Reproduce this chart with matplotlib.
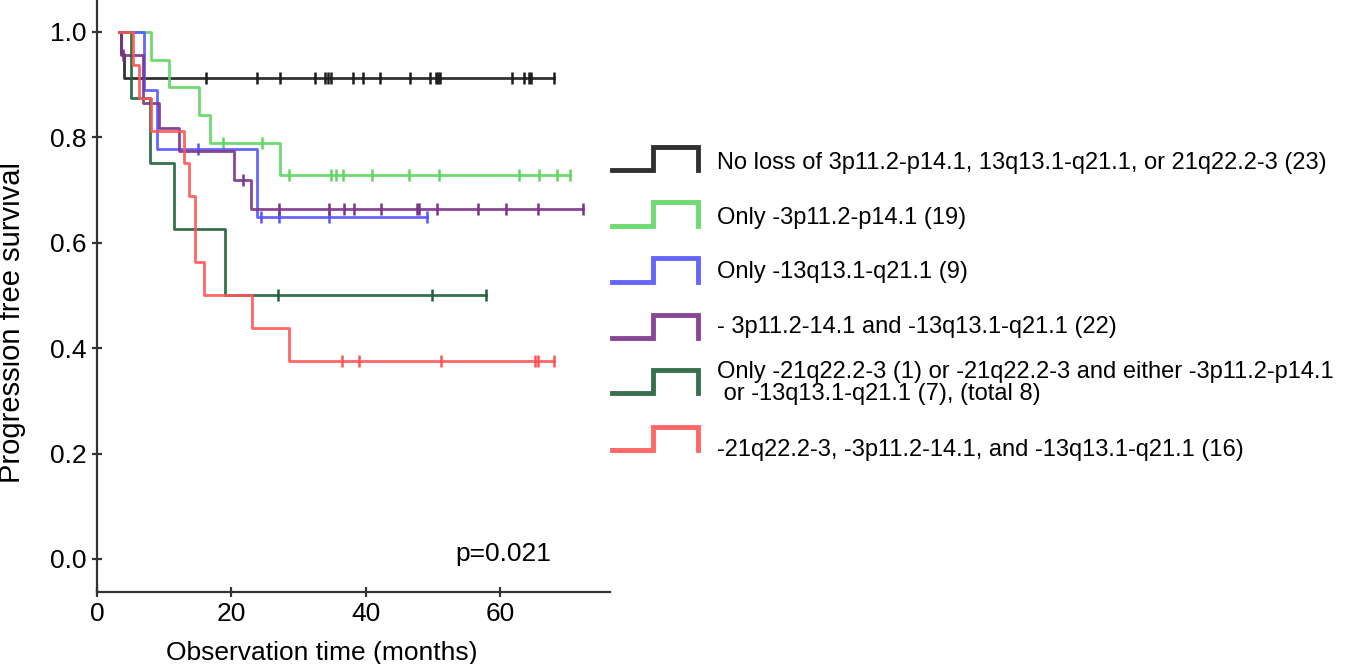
import numpy as np
import matplotlib
matplotlib.use("Agg")
import matplotlib.pyplot as plt
from matplotlib.lines import Line2D

plt.rcParams['font.family'] = ['Liberation Sans', 'DejaVu Sans']

# Kaplan-Meier steps (months, survival)
black_t = [3.3, 3.5, 4.0]
black_s = [1.0, 0.957, 0.913]
black_end = 68.0
black_cens = [16.2, 23.9, 27.3, 32.5, 34.0, 34.4, 34.8, 38.1, 39.6, 42.2, 46.6,
              49.6, 50.5, 50.8, 51.1, 61.8, 63.6, 64.4, 64.7, 68.0]

green_t = [3.3, 8.0, 10.7, 15.2, 16.8, 27.3]
green_s = [1.0, 0.947, 0.895, 0.842, 0.789, 0.728]
green_end = 70.4
green_cens = [18.8, 24.5, 28.6, 34.9, 35.6, 36.6, 41.0, 46.4, 50.9, 62.8, 65.9, 68.5, 70.4]

blue_t = [3.3, 7.0, 9.0, 23.8]
blue_s = [1.0, 0.889, 0.778, 0.648]
blue_end = 49.1
blue_cens = [15.1, 24.4, 27.1, 34.5, 49.1]

purple_t = [3.3, 3.5, 6.8, 9.2, 12.2, 20.4, 22.9]
purple_s = [1.0, 0.955, 0.864, 0.818, 0.773, 0.718, 0.663]
purple_end = 72.4
purple_cens = [3.8, 21.8, 27.1, 34.5, 36.8, 38.2, 42.3, 47.6, 47.9, 50.7, 56.8, 60.9, 65.7, 72.4]

dgreen_t = [3.3, 5.0, 7.9, 11.5, 19.0]
dgreen_s = [1.0, 0.875, 0.75, 0.625, 0.5]
dgreen_end = 58.0
dgreen_cens = [27.0, 49.9, 58.0]

red_t = [3.3, 5.3, 6.3, 8.0, 13.0, 13.7, 14.6, 15.9, 23.1, 28.6]
red_s = [1.0, 0.9375, 0.875, 0.8125, 0.75, 0.6875, 0.5625, 0.5, 0.4375, 0.375]
red_end = 68.0
red_cens = [36.5, 39.0, 51.2, 65.2, 65.7, 68.0]

labels = [
    "No loss of 3p11.2-p14.1, 13q13.1-q21.1, or 21q22.2-3 (23)",
    "Only -3p11.2-p14.1 (19)",
    "Only -13q13.1-q21.1 (9)",
    "- 3p11.2-14.1 and -13q13.1-q21.1 (22)",
    "Only -21q22.2-3 (1) or -21q22.2-3 and either -3p11.2-p14.1\n or -13q13.1-q21.1 (7), (total 8)",
    "-21q22.2-3, -3p11.2-14.1, and -13q13.1-q21.1 (16)",
]
colors = ['#1c1c1c', '#5fd65f', '#5555ff', '#7b338a', '#21613a', '#ff5555']

groups = [
    (black_t, black_s, black_end, black_cens),
    (green_t, green_s, green_end, green_cens),
    (blue_t, blue_s, blue_end, blue_cens),
    (purple_t, purple_s, purple_end, purple_cens),
    (dgreen_t, dgreen_s, dgreen_end, dgreen_cens),
    (red_t, red_s, red_end, red_cens),
]

W, H = 1350, 664
fig = plt.figure(figsize=(W / 100, H / 100), dpi=100)
ax = fig.add_axes([97 / W, 1 - 592 / H, (610 - 97) / W, 592 / H])

for (t, s, end, cens), c in zip(groups, colors):
    ax.step(t + [end], s + [s[-1]], where='post', color=c, lw=2.0, alpha=0.9)
    idx = np.searchsorted(t, cens, side='right') - 1
    ax.plot(cens, np.array(s)[idx], ls='none', marker='|', ms=8, mew=1.8, color=c)

ax.set_xlim(0, 76.4)
ax.set_ylim(-0.0626, 1.06)
ax.set_xticks([0, 20, 40, 60])
ax.set_yticks([0.0, 0.2, 0.4, 0.6, 0.8, 1.0])
ax.yaxis.set_major_formatter(matplotlib.ticker.FormatStrFormatter('%.1f'))
for sp in ['top', 'right']:
    ax.spines[sp].set_visible(False)
for sp in ['left', 'bottom']:
    ax.spines[sp].set_linewidth(1.6)
    ax.spines[sp].set_color('#333333')
ax.tick_params(direction='inout', length=7, width=1.6, color='#333333',
               labelsize=19, pad=4)
ax.set_xlabel("Observation time (months)", fontsize=19)
ax.set_ylabel("Progression free survival", fontsize=21)
ax.xaxis.set_label_coords(0.439, -0.083)
ax.yaxis.set_label_coords(-0.138, 0.456)
ax.text(53.4, 0.01, "p=0.021", fontsize=19, ha='left', va='center')

# legend drawn by hand with step-shaped keys
key_rows = [(170, 147, 163), (226, 202, 218), (282, 258, 272),
            (338, 315, 327), (393, 370, 383), (450, 427, 450)]
for (lo, hi, ty), c, lab in zip(key_rows, colors, labels):
    xs = np.array([612, 653, 653, 698, 698]) / W
    ys = 1 - np.array([lo, lo, hi, hi, lo]) / H
    fig.add_artist(Line2D(xs, ys, color=c, lw=3.5, alpha=0.9,
                          solid_joinstyle='miter', transform=fig.transFigure))
    fig.text(717 / W, 1 - ty / H, lab, fontsize=17, ha='left', va='center',
             linespacing=1.0)

fig.savefig("out.png", dpi=100)
